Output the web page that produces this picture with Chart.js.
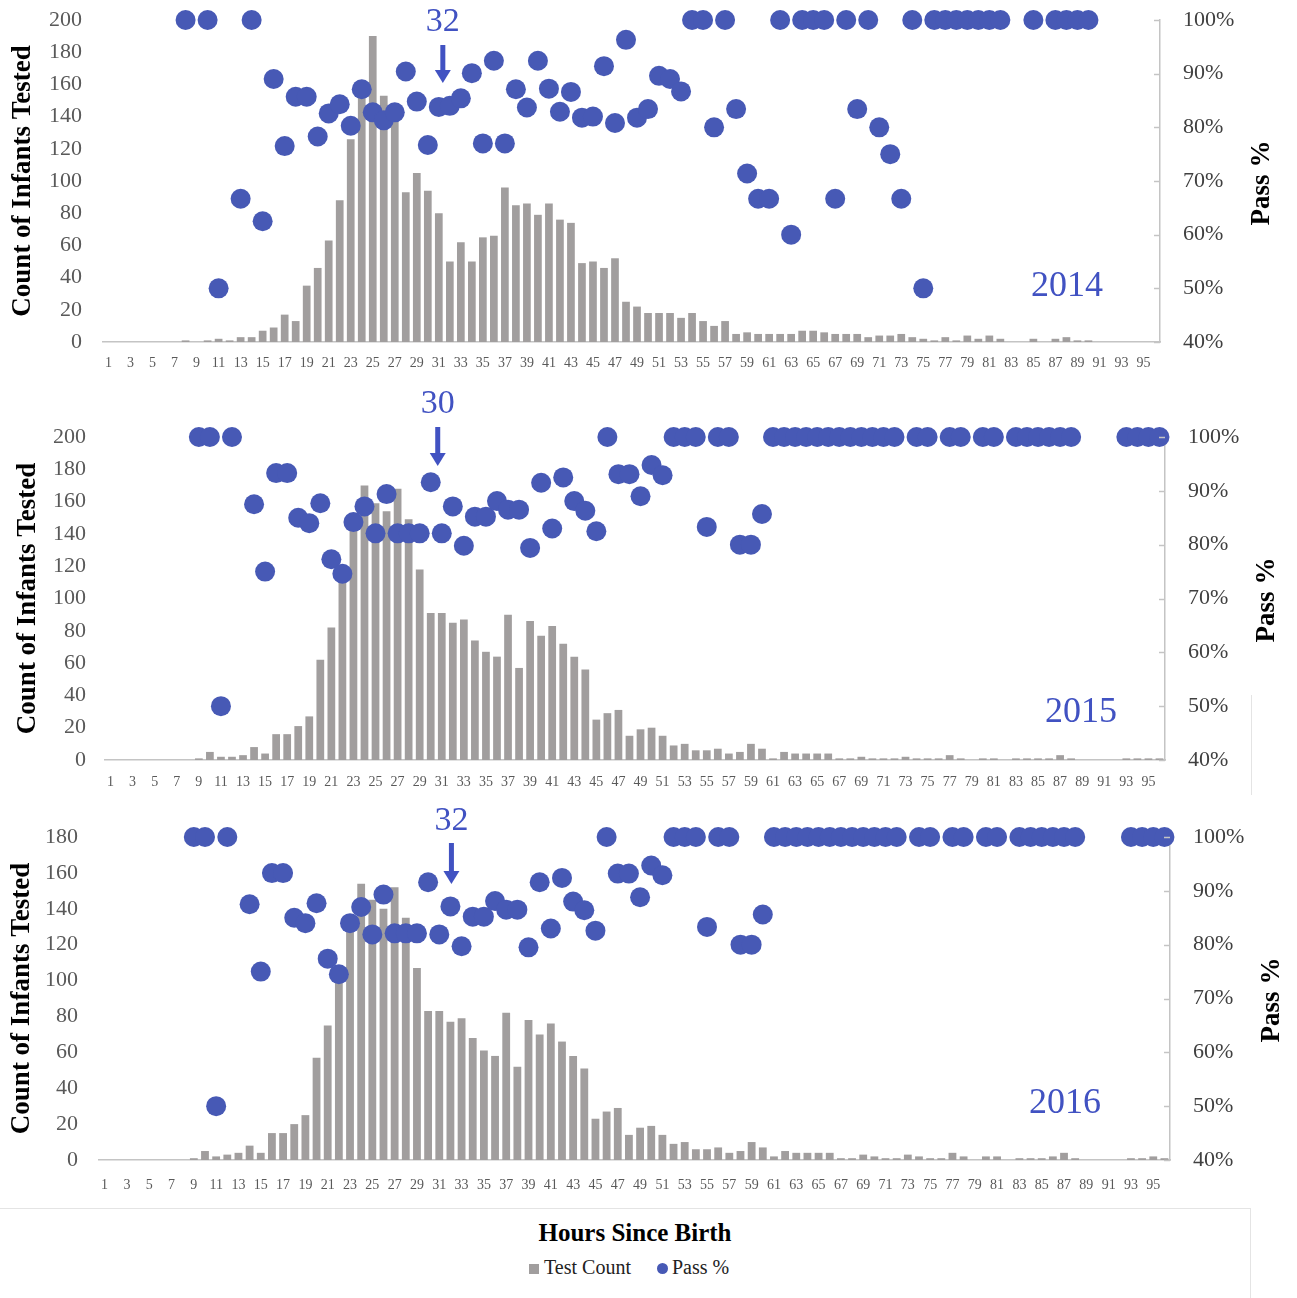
<!DOCTYPE html>
<html>
<head>
<meta charset="utf-8">
<script src="https://cdn.jsdelivr.net/npm/chart.js@4.4.0/dist/chart.umd.min.js"></script>
<style>
html,body{margin:0;padding:0;background:#fff;}
#wrap{position:relative;width:1297px;height:1298px;overflow:hidden;background:#fff;font-family:"Liberation Serif","Times New Roman",serif;}
#wrap canvas{position:absolute;left:0;}
#xtitle{position:absolute;left:0;width:1270px;top:1219px;text-align:center;font-weight:bold;font-size:25px;color:#000;}
#legend{position:absolute;left:529px;top:1256px;font-size:20px;color:#222;white-space:nowrap;}
#legend span.sq{display:inline-block;width:10px;height:10px;background:#a19e9e;margin-right:5px;}
#legend span.ci{display:inline-block;width:11px;height:11px;border-radius:50%;background:#4759b5;margin-left:26px;margin-right:4px;}
.fl{position:absolute;background:#e4e4e4;}
</style>
</head>
<body>
<div id="wrap">
  <canvas id="c1"></canvas>
  <canvas id="c2"></canvas>
  <canvas id="c3"></canvas>
  <div id="xtitle">Hours Since Birth</div>
  <div id="legend"><span class="sq"></span>Test Count<span class="ci"></span>Pass %</div>
  <div class="fl" style="left:0;top:1208px;width:1251px;height:1px;"></div>
  <div class="fl" style="left:1250px;top:1208px;width:1px;height:90px;"></div>
  <div class="fl" style="left:1251px;top:695px;width:1px;height:100px;"></div>
</div>
<script>
// ---------------- DATA ----------------
const hours = ['1','2','3','4','5','6','7','8','9','10','11','12','13','14','15','16','17','18','19','20',
  '21','22','23','24','25','26','27','28','29','30','31','32','33','34','35','36','37','38','39','40',
  '41','42','43','44','45','46','47','48','49','50','51','52','53','54','55','56','57','58','59','60',
  '61','62','63','64','65','66','67','68','69','70','71','72','73','74','75','76','77','78','79','80',
  '81','82','83','84','85','86','87','88','89','90','91','92','93','94','95','96'];

const years = ['2014', '2015', '2016'];
const markedHours = ['32', '30', '32'];
const countAxisMax = [200, 200, 180];
const passTicksPct = [40, 50, 60, 70, 80, 90, 100];

const _ = null;

const counts2014 = [
  0,0,0,0,0,0,0,1,0,1,
  2,1,3,3,7,9,17,13,35,46,
  63,88,126,152,190,153,142,93,105,94,
  80,50,62,50,65,66,96,85,86,79,
  86,76,74,49,50,46,52,25,22,18,
  18,18,15,18,13,10,13,5,6,5,
  5,5,5,7,7,6,5,5,5,3,
  4,4,5,3,2,1,3,1,4,2,
  4,2,0,0,2,0,2,3,1,1,
  0,0,0,0,0,0];

const pass2014 = [
  _,_,_,_,_,_,_,100,_,100,
  50,_,66.7,100,62.5,89,76.5,85.7,85.7,78.3,
  82.6,84.3,80.3,87.1,82.8,81.3,82.8,90.4,84.8,76.7,
  83.8,84,85.4,90.1,77,92.4,77,87.1,83.7,92.4,
  87.2,82.9,86.6,81.8,82,91.4,80.8,96.3,81.8,83.4,
  89.6,89,86.7,100,100,80,100,83.4,71.4,66.7,
  66.7,100,60,100,100,100,66.7,100,83.4,100,
  80,75,66.7,100,50,100,100,100,100,100,
  100,100,_,_,100,_,100,100,100,100,
  _,_,_,_,_,_];

const counts2015 = [
  0,0,0,0,0,0,0,0,1,5,
  2,2,3,8,4,16,16,21,27,62,
  82,115,145,170,159,154,168,149,118,91,
  91,85,87,74,67,64,90,57,86,77,
  83,72,64,56,25,29,31,15,19,20,
  15,9,10,6,6,7,4,5,10,7,
  1,5,4,4,4,4,1,1,2,1,
  1,1,2,1,1,1,3,1,0,1,
  1,0,1,1,1,1,3,1,0,0,
  0,0,1,1,1,1];

const pass2015 = [
  _,_,_,_,_,_,_,_,100,100,
  50,100,_,87.5,75,93.3,93.3,85,84,87.7,
  77.3,74.6,84.2,87.1,82.1,89.4,82.1,82.1,82.1,91.6,
  82.1,87.1,79.8,85.2,85.2,88.1,86.5,86.5,79.4,91.5,
  83,92.5,88.1,86.3,82.5,100,93.1,93.1,89,94.8,
  92.9,100,100,100,83.3,100,100,80,80,85.7,
  100,100,100,100,100,100,100,100,100,100,
  100,100,_,100,100,_,100,100,_,100,
  100,_,100,100,100,100,100,100,_,_,
  _,_,100,100,100,100];

const counts2016 = [
  0,0,0,0,0,0,0,0,1,5,
  2,3,4,8,4,15,15,20,25,57,
  75,100,130,154,145,140,152,135,107,83,
  83,77,79,68,61,58,82,52,78,70,
  76,66,58,51,23,27,29,14,18,19,
  14,9,10,6,6,7,4,5,10,7,
  2,5,4,4,4,4,1,1,3,2,
  1,1,3,2,1,1,4,2,0,2,
  2,0,1,1,1,2,4,1,0,0,
  0,0,1,1,2,1];

const pass2016 = [
  _,_,_,_,_,_,_,_,100,100,
  50,100,_,87.5,75,93.3,93.3,85,84,87.7,
  77.4,74.5,84,87,81.9,89.3,82.1,82.1,82.1,91.6,
  81.9,87.1,79.7,85.2,85.2,88.1,86.5,86.5,79.5,91.6,
  83,92.4,88,86.4,82.6,100,93.2,93.2,88.8,94.7,
  92.9,100,100,100,83.3,100,100,80,80,85.6,
  100,100,100,100,100,100,100,100,100,100,
  100,100,_,100,100,_,100,100,_,100,
  100,_,100,100,100,100,100,100,_,_,
  _,_,100,100,100,100];

const countSeries = [counts2014, counts2015, counts2016];
const passSeries = [pass2014, pass2015, pass2016];

// ---------------- STYLE / LAYOUT ----------------
const SERIF = '"Liberation Serif", "Times New Roman", serif';
const GRAY = '#a19e9e';
const BLUE = '#4759b5';
const ANNOT = '#4152c2';
const AXIS = '#c4c4c4';

Chart.defaults.font.family = SERIF;

const layouts = [
  {id:'c1', top:0,   h:380, padTop:20, xH:38, lW:103, rW:137, xPad:13, lPad:21, rPad:23, tPad:7,
   yearX:1067, yearY:287, passX:1262, passY:183, nudge:-7, labelY:22, arrowTop:45, arrowBottom:83},
  {id:'c2', top:380, h:420, padTop:57, xH:40, lW:105, rW:132, xPad:14, lPad:19, rPad:23, tPad:12,
   yearX:1081, yearY:713, passX:1267, passY:600, nudge:7, labelY:404, arrowTop:427, arrowBottom:466},
  {id:'c3', top:800, h:405, padTop:37, xH:45, lW:99,  rW:127, xPad:17, lPad:21, rPad:23, tPad:6,
   yearX:1065, yearY:1104, passX:1272, passY:1000, nudge:1, labelY:821, arrowTop:843, arrowBottom:884}
];

function noPad(s) {
  s.paddingTop = 0; s.paddingBottom = 0; s.paddingLeft = 0; s.paddingRight = 0;
}

const overlayPlugin = {
  id: 'overlay',
  afterDraw(chart, args, o) {
    const ctx = chart.ctx;
    const ca = chart.chartArea;
    const y1 = chart.scales.y1;
    const x = chart.scales.x;
    ctx.save();
    // inward tick marks on the right axis
    ctx.strokeStyle = AXIS;
    ctx.lineWidth = 1.5;
    y1.ticks.forEach(t => {
      const py = Math.round(y1.getPixelForValue(t.value)) + 0.5;
      ctx.beginPath();
      ctx.moveTo(ca.right, py);
      ctx.lineTo(ca.right - 6, py);
      ctx.stroke();
    });
    // year label
    ctx.fillStyle = ANNOT;
    ctx.textAlign = 'center';
    ctx.textBaseline = 'middle';
    ctx.font = '36px ' + SERIF;
    ctx.fillText(o.year, o.yearX, o.yearY);
    // marked hour annotation
    const idx = hours.indexOf(o.hour);
    const ax = x.getPixelForValue(idx) + o.nudge;
    ctx.font = '34px ' + SERIF;
    ctx.fillText(o.hour, ax, o.labelY);
    const headH = 13;
    ctx.fillRect(ax - 2.5, o.arrowTop, 5, o.arrowBottom - o.arrowTop - headH + 1);
    ctx.beginPath();
    ctx.moveTo(ax - 8, o.arrowBottom - headH);
    ctx.lineTo(ax + 8, o.arrowBottom - headH);
    ctx.lineTo(ax, o.arrowBottom);
    ctx.closePath();
    ctx.fill();
    // right axis title
    ctx.fillStyle = '#000';
    ctx.font = 'bold 27px ' + SERIF;
    ctx.translate(o.passX, o.passY);
    ctx.rotate(-Math.PI / 2);
    ctx.fillText('Pass %', 0, 0);
    ctx.restore();
  }
};

function makePanel(i) {
  const L = layouts[i];
  const cv = document.getElementById(L.id);
  cv.width = 1297;
  cv.height = L.h;
  cv.style.top = L.top + 'px';
  cv.style.width = '1297px';
  cv.style.height = L.h + 'px';
  return new Chart(cv.getContext('2d'), {
    type: 'bar',
    data: {
      labels: hours,
      datasets: [
        {
          type: 'line', label: 'Pass %', data: passSeries[i], yAxisID: 'y1',
          showLine: false, pointRadius: 10, pointHoverRadius: 10,
          pointBackgroundColor: BLUE, pointBorderColor: BLUE, pointBorderWidth: 0,
          clip: false, order: 0
        },
        {
          type: 'bar', label: 'Test Count', data: countSeries[i], yAxisID: 'y',
          backgroundColor: GRAY, barPercentage: 0.7, categoryPercentage: 1.0, order: 1
        }
      ]
    },
    options: {
      responsive: false,
      animation: false,
      events: [],
      devicePixelRatio: 1,
      layout: { padding: { top: L.padTop, left: 0, right: 0, bottom: 0 } },
      plugins: {
        legend: { display: false },
        tooltip: { enabled: false },
        overlay: {
          year: years[i], hour: markedHours[i], nudge: L.nudge,
          yearX: L.yearX, yearY: L.yearY - L.top,
          passX: L.passX, passY: L.passY - L.top,
          labelY: L.labelY - L.top, arrowTop: L.arrowTop - L.top, arrowBottom: L.arrowBottom - L.top
        }
      },
      scales: {
        x: {
          type: 'category', offset: true,
          grid: { display: false, drawTicks: false },
          border: { display: true, color: AXIS, width: 1.5 },
          ticks: {
            autoSkip: false, maxRotation: 0, minRotation: 0, padding: L.xPad,
            color: '#595959', font: { family: SERIF, size: 14 },
            callback: (v, idx) => (idx % 2 === 0 ? hours[idx] : '')
          },
          afterFit: s => { s.height = L.xH; noPad(s); }
        },
        y: {
          position: 'left', min: 0, max: countAxisMax[i],
          grid: { display: false, drawTicks: false },
          border: { display: false },
          ticks: { stepSize: 20, padding: L.lPad, color: '#595959', font: { family: SERIF, size: 22 } },
          title: {
            display: true, text: 'Count of Infants Tested', color: '#000',
            font: { family: SERIF, size: 27, weight: 'bold' }, padding: { top: L.tPad, bottom: 0 }
          },
          afterFit: s => { s.width = L.lW; noPad(s); }
        },
        y1: {
          position: 'right', min: passTicksPct[0], max: passTicksPct[passTicksPct.length - 1],
          grid: { display: false, drawTicks: false },
          border: { display: true, color: AXIS, width: 1.5 },
          ticks: {
            stepSize: 10, padding: L.rPad, color: '#404040', font: { family: SERIF, size: 22 },
            callback: v => v + '%'
          },
          afterFit: s => { s.width = L.rW; noPad(s); }
        }
      }
    },
    plugins: [overlayPlugin]
  });
}

[0, 1, 2].forEach(makePanel);
</script>
</body>
</html>
